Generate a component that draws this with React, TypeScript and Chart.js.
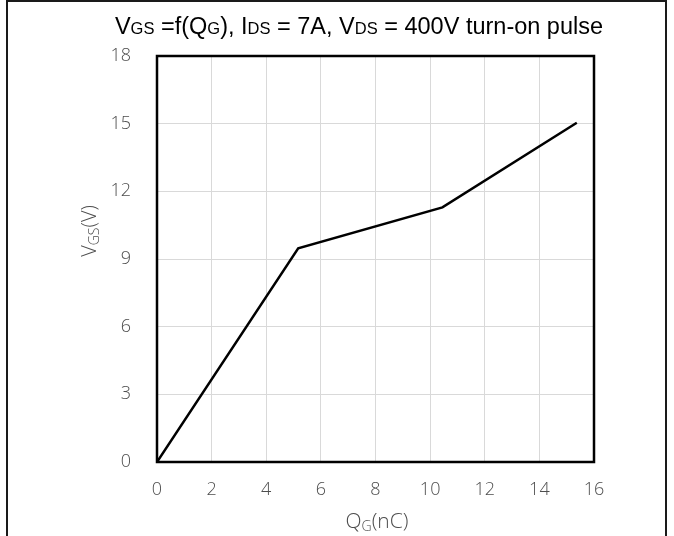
import React, { useEffect, useRef } from "react";
import { Chart, registerables } from "chart.js";

Chart.register(...registerables);

// ---- data ----
const qgValues = [0, 5.17, 10.45, 15.37];
const vgsValues = [0, 9.47, 11.29, 15.04];

const xMin = 0;
const xMax = 16;
const xStep = 2;
const yMin = 0;
const yMax = 18;
const yStep = 3;

// [text, isSubscript]
const titleParts: [string, boolean][] = [
  ["V", false],
  ["GS", true],
  [" =f(Q", false],
  ["G", true],
  ["), I", false],
  ["DS", true],
  [" = 7A, V", false],
  ["DS", true],
  [" = 400V turn-on pulse", false],
];
const xTitleParts: [string, boolean][] = [
  ["Q", false],
  ["G", true],
  ["(nC)", false],
];
const yTitleParts: [string, boolean][] = [
  ["V", false],
  ["GS", true],
  ["(V)", false],
];

const TICK_FONT = "'Open Sans', 'Noto Sans', sans-serif";
const TITLE_FONT = "'Liberation Sans', Arial, sans-serif";

function drawRich(
  ctx: CanvasRenderingContext2D,
  parts: [string, boolean][],
  cx: number,
  baseline: number,
  bigFont: string,
  smallFont: string,
  subDrop: number
) {
  let total = 0;
  const widths = parts.map(([t, sub]) => {
    ctx.font = sub ? smallFont : bigFont;
    const w = ctx.measureText(t).width;
    total += w;
    return w;
  });
  let x = cx - total / 2;
  ctx.textAlign = "left";
  ctx.textBaseline = "alphabetic";
  parts.forEach(([t, sub], i) => {
    ctx.font = sub ? smallFont : bigFont;
    ctx.fillText(t, x, baseline + (sub ? subDrop : 0));
    x += widths[i];
  });
}

const decorPlugin = {
  id: "decor",
  beforeDraw(chart: any) {
    const ctx = chart.ctx as CanvasRenderingContext2D;
    ctx.save();
    ctx.fillStyle = "#ffffff";
    ctx.fillRect(0, 0, chart.width, chart.height);
    ctx.strokeStyle = "#1a1a1a";
    ctx.lineWidth = 2;
    ctx.strokeRect(7, 1, 659, 600);
    ctx.restore();
  },
  afterDraw(chart: any) {
    const ctx = chart.ctx as CanvasRenderingContext2D;
    const a = chart.chartArea;
    ctx.save();
    ctx.strokeStyle = "#000000";
    ctx.lineWidth = 2.5;
    ctx.strokeRect(a.left, a.top, a.right - a.left, a.bottom - a.top);

    // main title
    ctx.fillStyle = "#000000";
    drawRich(ctx, titleParts, 359, 34, `23.5px ${TITLE_FONT}`, `16.5px ${TITLE_FONT}`, 0);

    // x axis title
    ctx.fillStyle = "#4d4d4d";
    drawRich(ctx, xTitleParts, 377, 528, `300 21px ${TICK_FONT}`, `300 14px ${TICK_FONT}`, 3);

    // y axis title (rotated)
    ctx.save();
    ctx.translate(96, 231);
    ctx.rotate(-Math.PI / 2);
    drawRich(ctx, yTitleParts, 0, 0, `300 20px ${TICK_FONT}`, `300 14px ${TICK_FONT}`, 3);
    ctx.restore();

    ctx.restore();
  },
};

export default function App() {
  const canvasRef = useRef<HTMLCanvasElement | null>(null);

  useEffect(() => {
    if (!canvasRef.current) return;
    const data = qgValues.map((x, i) => ({ x, y: vgsValues[i] }));
    const chart = new Chart(canvasRef.current, {
      type: "line",
      data: {
        datasets: [
          {
            data,
            borderColor: "#000000",
            borderWidth: 2.5,
            pointRadius: 0,
            tension: 0,
            fill: false,
          },
        ],
      },
      options: {
        animation: false,
        responsive: false,
        maintainAspectRatio: false,
        layout: { padding: { top: 56, right: 80, bottom: 0, left: 0 } },
        plugins: {
          legend: { display: false },
          tooltip: { enabled: false },
          title: { display: false },
        },
        scales: {
          x: {
            type: "linear",
            min: xMin,
            max: xMax,
            ticks: {
              stepSize: xStep,
              padding: 17,
              color: "#4d4d4d",
              font: { family: TICK_FONT, size: 18, weight: "300" },
            },
            grid: { color: "#d9d9d9", lineWidth: 1, drawTicks: false },
            border: { display: false },
            afterFit: (s: any) => {
              s.height = 74;
            },
          },
          y: {
            type: "linear",
            min: yMin,
            max: yMax,
            ticks: {
              stepSize: yStep,
              padding: 26,
              color: "#4d4d4d",
              font: { family: TICK_FONT, size: 18, weight: "300" },
            },
            grid: { color: "#d9d9d9", lineWidth: 1, drawTicks: false },
            border: { display: false },
            afterFit: (s: any) => {
              s.width = 157;
            },
          },
        },
      } as any,
      plugins: [decorPlugin],
    });
    return () => chart.destroy();
  }, []);

  return (
    <div style={{ position: "absolute", left: 0, top: 0, width: 674, height: 536 }}>
      <canvas ref={canvasRef} width={674} height={536} style={{ display: "block" }} />
    </div>
  );
}
